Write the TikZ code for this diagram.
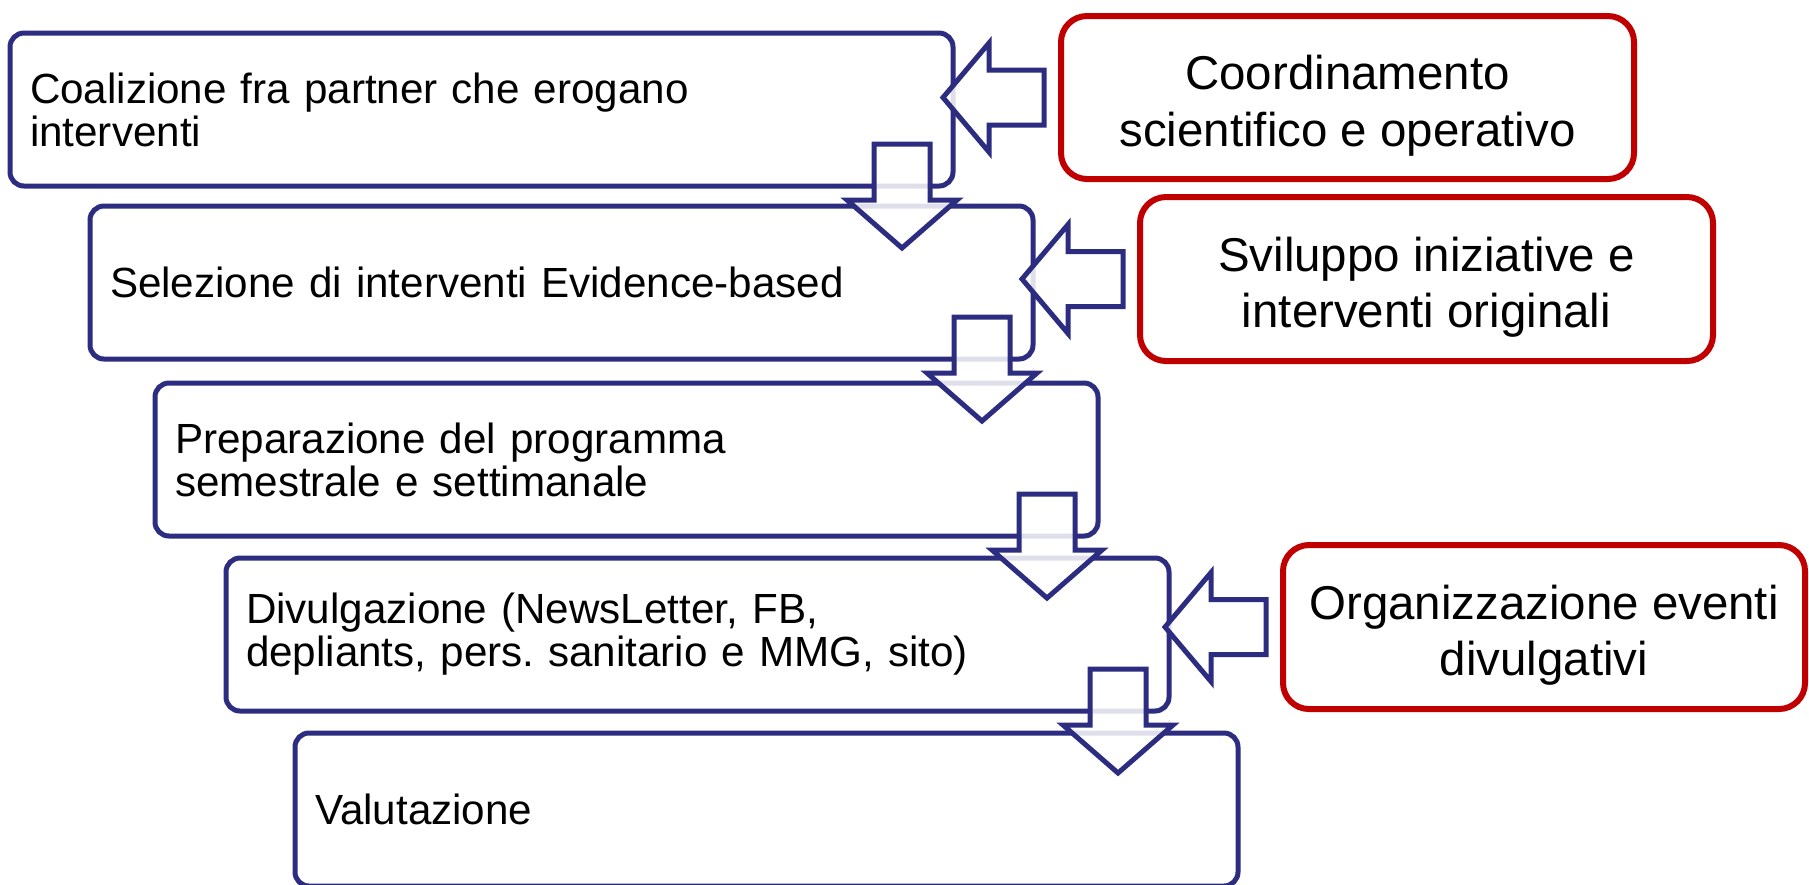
\documentclass[tikz,border=0pt]{standalone}
\usepackage{fontspec}
\setmainfont{Liberation Sans}
\frenchspacing
\usetikzlibrary{calc}
\definecolor{bcol}{RGB}{44,44,128}
\definecolor{rcol}{RGB}{192,0,0}
\newcommand{\topstrut}{\rule{0pt}{1.07em}}
\tikzset{every picture/.style={x=0.1mm,y=-0.1mm}}
\tikzset{stage/.style={draw=bcol,line width=0.5mm,rounded corners=1.4mm,outer sep=0pt,anchor=north west,minimum height=15.3mm,text width=90.3mm,inner xsep=2mm,align=left,font=\fontsize{12}{12.2}\selectfont}}
\tikzset{support/.style={draw=rcol,line width=0.6mm,rounded corners=2.6mm,outer sep=0pt,anchor=north west,minimum width=57.3mm,minimum height=16.3mm,align=center,font=\fontsize{13.5}{16.2}\selectfont}}
\tikzset{blockarr/.style={draw=bcol,line width=0.5mm,fill=white,fill opacity=0.85,line join=miter}}
\begin{document}
\begin{tikzpicture}
\useasboundingbox (0,0) rectangle (1809,884);
\node [stage] (st1) at (10,33) {Coalizione fra partner che erogano\\interventi};
\node [stage] (st2) at (90,206) {Selezione di interventi Evidence-based};
\node [stage] (st3) at (155,383) {Preparazione del programma\\semestrale e settimanale};
\node [stage] (st4) at (226,558) {Divulgazione (NewsLetter, FB,\\depliants, pers. sanitario e MMG, sito)};
\node [stage] (st5) at (295,733) {Valutazione};
\node [support] (sup1) at (1061,16) {\topstrut Coordinamento\\scientifico e operativo};
\node [support,minimum height=16.4mm] (sup2) at (1140,197) {\topstrut Sviluppo iniziative e\\interventi originali};
\node [support,minimum width=52.2mm,minimum height=16.4mm] (sup3) at (1283,545) {\topstrut Organizzazione eventi\\divulgativi};
% arrows between the stages
\draw [blockarr] ($(st1.south east)+(-79,-42)$) -- ++(56,0) -- ++(0,56) -- ++(27,0) -- ++(-55,48) -- ++(-55,-48) -- ++(27,0) -- cycle;
\draw [blockarr] ($(st2.south east)+(-79,-42)$) -- ++(56,0) -- ++(0,56) -- ++(27,0) -- ++(-55,48) -- ++(-55,-48) -- ++(27,0) -- cycle;
\draw [blockarr] ($(st3.south east)+(-79,-42)$) -- ++(56,0) -- ++(0,56) -- ++(27,0) -- ++(-55,48) -- ++(-55,-48) -- ++(27,0) -- cycle;
\draw [blockarr] ($(st4.south east)+(-79,-42)$) -- ++(56,0) -- ++(0,56) -- ++(27,0) -- ++(-55,48) -- ++(-55,-48) -- ++(27,0) -- cycle;
% arrows from the support boxes
\draw [blockarr] ($(sup1.west)+(-17,-27.5)$) -- ++(-55,0) -- ++(0,-27) -- ++(-46,54.5) -- ++(46,54.5) -- ++(0,-27) -- ++(55,0) -- cycle;
\draw [blockarr] ($(sup2.west)+(-17,-27.5)$) -- ++(-55,0) -- ++(0,-27) -- ++(-46,54.5) -- ++(46,54.5) -- ++(0,-27) -- ++(55,0) -- cycle;
\draw [blockarr] ($(sup3.west)+(-17,-27.5)$) -- ++(-55,0) -- ++(0,-27) -- ++(-46,54.5) -- ++(46,54.5) -- ++(0,-27) -- ++(55,0) -- cycle;
\end{tikzpicture}
\end{document}
